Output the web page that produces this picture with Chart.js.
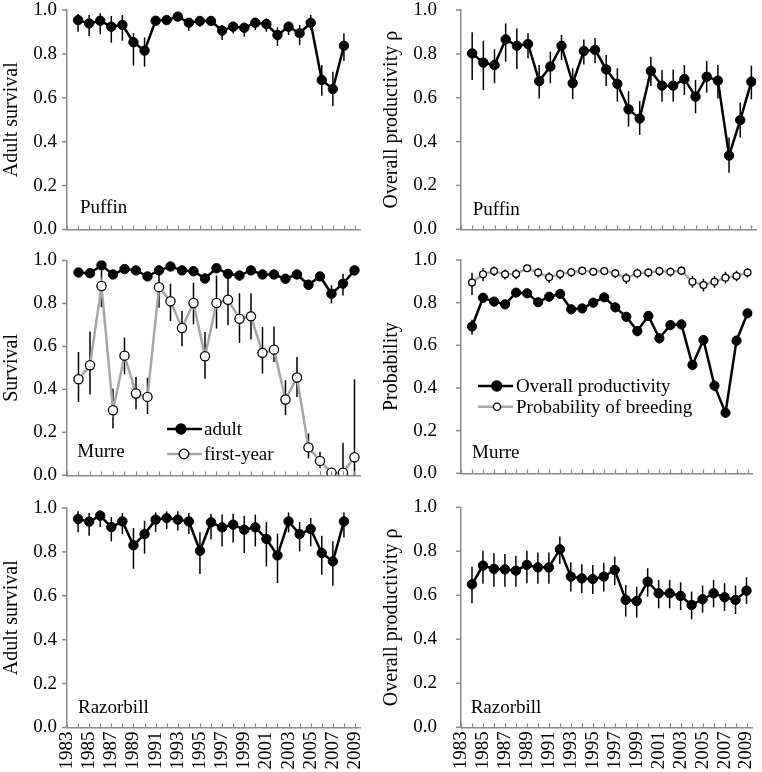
<!DOCTYPE html>
<html>
<head>
<meta charset="utf-8">
<script src="https://cdn.jsdelivr.net/npm/chart.js@4.4.0/dist/chart.umd.min.js"></script>
<style>
  body { margin: 0; background: #fff; width: 762px; height: 772px; position: relative; overflow: hidden; }
  canvas { position: absolute; }
</style>
</head>
<body>
<canvas id="puffinAdultChart" width="372" height="240" style="left:0;top:0"></canvas>
<canvas id="puffinProdChart" width="382" height="240" style="left:380px;top:0"></canvas>
<canvas id="murreSurvChart" width="372" height="250" style="left:0;top:240px"></canvas>
<canvas id="murreProdChart" width="382" height="250" style="left:380px;top:240px"></canvas>
<canvas id="razorAdultChart" width="372" height="282" style="left:0;top:490px"></canvas>
<canvas id="razorProdChart" width="382" height="282" style="left:380px;top:490px"></canvas>
<script>
// years
const years84to08 = [1984,1985,1986,1987,1988,1989,1990,1991,1992,1993,1994,1995,1996,1997,1998,1999,2000,2001,2002,2003,2004,2005,2006,2007,2008];
const years84to09 = [1984,1985,1986,1987,1988,1989,1990,1991,1992,1993,1994,1995,1996,1997,1998,1999,2000,2001,2002,2003,2004,2005,2006,2007,2008,2009];

// Puffin
const puffinAdult   = [0.954,0.939,0.951,0.924,0.932,0.853,0.815,0.951,0.954,0.970,0.942,0.950,0.950,0.906,0.924,0.919,0.942,0.936,0.886,0.924,0.894,0.942,0.681,0.640,0.837];
const puffinAdultLo = [0.901,0.881,0.889,0.851,0.860,0.746,0.742,0.932,0.936,0.951,0.906,0.924,0.927,0.863,0.894,0.878,0.909,0.901,0.836,0.886,0.840,0.909,0.609,0.562,0.769];
const puffinAdultHi = [0.982,0.977,0.985,0.973,0.977,0.894,0.875,0.970,0.973,0.985,0.962,0.970,0.970,0.932,0.947,0.942,0.962,0.962,0.921,0.947,0.932,0.977,0.749,0.719,0.894];
const puffinProd    = [0.802,0.760,0.749,0.866,0.837,0.845,0.676,0.742,0.837,0.666,0.813,0.818,0.729,0.663,0.547,0.505,0.722,0.655,0.655,0.685,0.605,0.696,0.678,0.336,0.498,0.673];
const puffinProdLo  = [0.681,0.635,0.666,0.764,0.731,0.780,0.597,0.666,0.772,0.594,0.752,0.757,0.653,0.582,0.468,0.430,0.653,0.582,0.582,0.612,0.529,0.623,0.597,0.258,0.419,0.593];
const puffinProdHi  = [0.898,0.860,0.821,0.939,0.916,0.894,0.749,0.810,0.886,0.734,0.866,0.872,0.795,0.734,0.630,0.585,0.787,0.726,0.729,0.749,0.681,0.767,0.749,0.419,0.578,0.746];

// Murre
const murreAdult    = [0.944,0.941,0.978,0.935,0.960,0.954,0.926,0.954,0.972,0.954,0.950,0.916,0.964,0.938,0.930,0.954,0.935,0.935,0.915,0.935,0.887,0.926,0.845,0.892,0.954];
const murreAdultLo  = [0.925,0.922,0.958,0.915,0.942,0.936,0.905,0.936,0.955,0.936,0.932,0.895,0.946,0.915,0.908,0.935,0.915,0.915,0.893,0.915,0.864,0.905,0.800,0.837,0.930];
const murreAdultHi  = [0.962,0.958,0.994,0.953,0.976,0.970,0.945,0.970,0.988,0.970,0.967,0.936,0.980,0.958,0.950,0.971,0.954,0.954,0.935,0.954,0.911,0.946,0.885,0.938,0.975];
const murreFirst    = [0.447,0.512,0.881,0.303,0.557,0.381,0.365,0.876,0.810,0.686,0.802,0.554,0.802,0.817,0.729,0.740,0.570,0.585,0.353,0.455,0.130,0.067,0.012,0.012,0.084];
const murreFirstLo  = [0.342,0.376,0.783,0.218,0.471,0.308,0.285,0.780,0.718,0.601,0.703,0.450,0.683,0.698,0.616,0.632,0.474,0.528,0.280,0.365,0.079,0.033,0.000,0.000,0.000];
const murreFirstHi  = [0.574,0.670,0.960,0.404,0.641,0.458,0.454,0.950,0.892,0.765,0.896,0.667,0.930,0.920,0.848,0.848,0.690,0.693,0.443,0.551,0.195,0.110,0.033,0.152,0.447];
const murreProd     = [0.688,0.823,0.805,0.792,0.847,0.844,0.802,0.828,0.841,0.769,0.773,0.800,0.825,0.778,0.734,0.667,0.738,0.633,0.695,0.698,0.508,0.625,0.411,0.284,0.622,0.750];
const murreProdLo   = [0.650,0.800,0.783,0.770,0.827,0.823,0.780,0.806,0.820,0.745,0.750,0.778,0.804,0.755,0.710,0.642,0.714,0.608,0.671,0.673,0.483,0.600,0.385,0.262,0.597,0.728];
const murreProdHi   = [0.720,0.845,0.826,0.812,0.866,0.864,0.822,0.848,0.860,0.790,0.794,0.820,0.845,0.800,0.756,0.690,0.760,0.656,0.718,0.720,0.532,0.648,0.434,0.306,0.645,0.770];
const murreBreed    = [0.894,0.933,0.948,0.933,0.934,0.961,0.941,0.919,0.934,0.942,0.950,0.945,0.948,0.938,0.914,0.938,0.941,0.948,0.945,0.950,0.898,0.883,0.898,0.917,0.925,0.941];
const murreBreedLo  = [0.836,0.900,0.925,0.908,0.910,0.945,0.918,0.893,0.910,0.920,0.930,0.925,0.928,0.915,0.888,0.914,0.918,0.926,0.922,0.930,0.870,0.852,0.870,0.890,0.900,0.918];
const murreBreedHi  = [0.940,0.962,0.970,0.955,0.958,0.977,0.962,0.942,0.956,0.962,0.968,0.964,0.966,0.958,0.938,0.960,0.962,0.968,0.965,0.970,0.925,0.912,0.925,0.945,0.950,0.962];

// Razorbill
const razorAdult    = [0.950,0.938,0.965,0.913,0.939,0.830,0.881,0.947,0.954,0.947,0.939,0.805,0.935,0.912,0.924,0.901,0.912,0.859,0.784,0.939,0.881,0.904,0.795,0.757,0.939];
const razorAdultLo  = [0.889,0.874,0.913,0.848,0.881,0.723,0.792,0.891,0.904,0.897,0.881,0.699,0.856,0.825,0.843,0.795,0.825,0.734,0.658,0.889,0.802,0.825,0.696,0.646,0.866];
const razorAdultHi  = [0.985,0.977,0.989,0.959,0.977,0.909,0.942,0.980,0.985,0.985,0.977,0.889,0.974,0.970,0.974,0.965,0.970,0.936,0.883,0.980,0.936,0.954,0.874,0.848,0.980];
const razorProd     = [0.650,0.735,0.720,0.718,0.712,0.738,0.727,0.727,0.809,0.685,0.677,0.674,0.685,0.715,0.579,0.574,0.662,0.609,0.609,0.597,0.556,0.582,0.609,0.591,0.579,0.621];
const razorProdLo   = [0.564,0.652,0.639,0.639,0.639,0.655,0.652,0.652,0.742,0.617,0.609,0.606,0.617,0.647,0.503,0.498,0.594,0.541,0.541,0.533,0.491,0.521,0.545,0.529,0.515,0.561];
const razorProdHi   = [0.730,0.803,0.791,0.788,0.780,0.803,0.795,0.795,0.867,0.750,0.741,0.738,0.748,0.776,0.647,0.639,0.723,0.670,0.670,0.659,0.617,0.644,0.670,0.655,0.644,0.682];

const SERIF = '"Liberation Serif", "Times New Roman", serif';
const AXIS = '#8a8a8a';
const GREY = '#a6a6a6';

function pts(years, vals) {
  return years.map((yr, i) => ({ x: yr, y: vals[i] }));
}

function blackSeries(label, years, vals, lo, hi, r) {
  return {
    label, data: pts(years, vals), errLo: lo, errHi: hi,
    borderColor: '#000', borderWidth: 2.5, tension: 0,
    pointRadius: r || 4.7, pointBackgroundColor: '#000', pointBorderColor: '#000', pointBorderWidth: 1,
  };
}

function openSeries(label, years, vals, lo, hi, r) {
  return {
    label, data: pts(years, vals), errLo: lo, errHi: hi,
    borderColor: GREY, borderWidth: 2.5, tension: 0,
    pointRadius: r, pointBackgroundColor: '#fff', pointBorderColor: '#000', pointBorderWidth: 1.3,
  };
}

// vertical error bars, drawn under the points
const errorBars = {
  id: 'errorBars',
  beforeDatasetsDraw(chart) {
    const { ctx, chartArea, scales: { x, y } } = chart;
    ctx.save();
    ctx.strokeStyle = '#000';
    ctx.lineWidth = 1.5;
    chart.data.datasets.forEach(ds => {
      if (!ds.errLo) return;
      ds.data.forEach((p, i) => {
        const px = x.getPixelForValue(p.x);
        const y1 = Math.max(chartArea.top, y.getPixelForValue(ds.errHi[i]));
        const y2 = Math.min(chartArea.bottom, y.getPixelForValue(ds.errLo[i]));
        ctx.beginPath();
        ctx.moveTo(px, y1);
        ctx.lineTo(px, y2);
        ctx.stroke();
      });
    });
    ctx.restore();
  }
};

// short tick marks: years point up into the plot, y ticks point out
const axisTicks = {
  id: 'axisTicks',
  afterDraw(chart) {
    const { ctx, chartArea, scales: { x, y } } = chart;
    ctx.save();
    ctx.strokeStyle = AXIS;
    ctx.lineWidth = 1.2;
    for (let v = Math.ceil(x.min); v <= Math.floor(x.max); v++) {
      const px = Math.round(x.getPixelForValue(v)) + 0.5;
      ctx.beginPath();
      ctx.moveTo(px, chartArea.bottom);
      ctx.lineTo(px, chartArea.bottom - 4);
      ctx.stroke();
    }
    ctx.lineWidth = 1.5;
    y.ticks.forEach(t => {
      const py = y.getPixelForValue(t.value);
      ctx.beginPath();
      ctx.moveTo(chartArea.left, py);
      ctx.lineTo(chartArea.left - 5, py);
      ctx.stroke();
    });
    ctx.restore();
  }
};

// species name and hand-placed legend
const panelText = {
  id: 'panelText',
  afterDraw(chart, args, opts) {
    const ctx = chart.ctx;
    ctx.save();
    ctx.font = '19px ' + SERIF;
    ctx.fillStyle = '#000';
    ctx.textBaseline = 'alphabetic';
    ctx.fillText(opts.label, opts.labelX, opts.labelY);
    (opts.legend || []).forEach(it => {
      ctx.strokeStyle = it.line;
      ctx.lineWidth = 2.5;
      ctx.beginPath();
      ctx.moveTo(it.x0, it.y);
      ctx.lineTo(it.x1, it.y);
      ctx.stroke();
      ctx.beginPath();
      ctx.arc(it.mx, it.y, it.r, 0, Math.PI * 2);
      ctx.fillStyle = it.fill;
      ctx.fill();
      ctx.lineWidth = 1.3;
      ctx.strokeStyle = '#000';
      ctx.stroke();
      ctx.fillStyle = '#000';
      ctx.textBaseline = 'middle';
      ctx.fillText(it.text, it.tx, it.y + 1);
    });
    ctx.restore();
  }
};

function makePanel(id, p) {
  return new Chart(document.getElementById(id), {
    type: 'line',
    data: { datasets: p.datasets },
    plugins: [errorBars, axisTicks, panelText],
    options: {
      responsive: false,
      animation: false,
      layout: { padding: { top: p.padTop, bottom: 0, left: 0, right: p.padRight } },
      plugins: {
        legend: { display: false },
        tooltip: { enabled: false },
        panelText: { label: p.label, labelX: p.labelX, labelY: p.labelY, legend: p.legend },
      },
      scales: {
        x: {
          type: 'linear', min: 1983, max: p.xMax,
          grid: { display: false, drawTicks: false },
          border: { color: AXIS, width: 1.5 },
          ticks: {
            display: p.xLabels, stepSize: 1, autoSkip: false, includeBounds: false,
            minRotation: 90, maxRotation: 90, padding: 4, color: '#000',
            font: { family: SERIF, size: 19 },
            callback: v => (v % 2 === 1 ? String(v) : ''),
          },
          afterFit: s => { s.height = p.xHeight; s.paddingLeft = 0; s.paddingRight = 0; },
        },
        y: {
          min: 0, max: 1,
          // invisible tick marks only make room between labels and axis
          grid: { drawOnChartArea: false, drawTicks: true, tickLength: p.yGap, tickColor: 'rgba(0,0,0,0)' },
          border: { color: AXIS, width: 1.5 },
          ticks: {
            stepSize: 0.2, padding: 0, color: '#000',
            font: { family: SERIF, size: 19, lineHeight: 1 },
            callback: v => v.toFixed(1),
          },
          title: {
            display: true, text: p.yTitle, color: '#000',
            font: { family: SERIF, size: 20 }, padding: { top: 0, bottom: 0 },
          },
          afterFit: s => { s.width = p.yWidth; },
        },
      },
    },
  });
}

const LEFT = { yWidth: 67, yGap: 10, padRight: 12 };
const RIGHT = { yWidth: 81, yGap: 24 };

makePanel('puffinAdultChart', Object.assign({}, LEFT, {
  xMax: 2009.45, xLabels: false, xHeight: 10.5, padTop: 10,
  yTitle: 'Adult survival', label: 'Puffin', labelX: 80, labelY: 213,
  datasets: [blackSeries('adult', years84to08, puffinAdult, puffinAdultLo, puffinAdultHi)],
}));

makePanel('puffinProdChart', Object.assign({}, RIGHT, {
  xMax: 2009.44, xLabels: false, xHeight: 10.7, padTop: 10, padRight: 2,
  yTitle: 'Overall productivity ρ', label: 'Puffin', labelX: 92.7, labelY: 215,
  datasets: [blackSeries('Overall productivity', years84to09, puffinProd, puffinProdLo, puffinProdHi)],
}));

makePanel('murreSurvChart', Object.assign({}, LEFT, {
  xMax: 2008.48, xLabels: false, xHeight: 14.7, padTop: 20.5,
  yTitle: 'Survival', label: 'Murre', labelX: 77.3, labelY: 216.7,
  legend: [
    { text: 'adult', y: 189, x0: 167, x1: 202, mx: 181, r: 5, line: '#000', fill: '#000', tx: 204 },
    { text: 'first-year', y: 214, x0: 167, x1: 202, mx: 184, r: 4.8, line: GREY, fill: '#fff', tx: 204 },
  ],
  datasets: [
    blackSeries('adult', years84to08, murreAdult, murreAdultLo, murreAdultHi),
    openSeries('first-year', years84to08, murreFirst, murreFirstLo, murreFirstHi, 4.6),
  ],
}));

makePanel('murreProdChart', Object.assign({}, RIGHT, {
  xMax: 2009.45, xLabels: false, xHeight: 16.7, padTop: 20, padRight: 9.5,
  yTitle: 'Probability', label: 'Murre', labelX: 92, labelY: 218,
  legend: [
    { text: 'Overall productivity', y: 146, x0: 98, x1: 133, mx: 116.7, r: 5, line: '#000', fill: '#000', tx: 136 },
    { text: 'Probability of breeding', y: 166.7, x0: 98, x1: 133, mx: 117, r: 3.6, line: GREY, fill: '#fff', tx: 136 },
  ],
  datasets: [
    blackSeries('Overall productivity', years84to09, murreProd, murreProdLo, murreProdHi, 4.6),
    openSeries('Probability of breeding', years84to09, murreBreed, murreBreedLo, murreBreedHi, 3.4),
  ],
}));

makePanel('razorAdultChart', Object.assign({}, LEFT, {
  xMax: 2009.45, xLabels: true, xHeight: 44.5, padTop: 18,
  yTitle: 'Adult survival', label: 'Razorbill', labelX: 78, labelY: 222.7,
  datasets: [blackSeries('adult', years84to08, razorAdult, razorAdultLo, razorAdultHi)],
}));

makePanel('razorProdChart', Object.assign({}, RIGHT, {
  xMax: 2009.5, xLabels: true, xHeight: 44.7, padTop: 17.3, padRight: 10,
  yTitle: 'Overall productivity ρ', label: 'Razorbill', labelX: 90.7, labelY: 222.7,
  datasets: [blackSeries('Overall productivity', years84to09, razorProd, razorProdLo, razorProdHi)],
}));
</script>
</body>
</html>
